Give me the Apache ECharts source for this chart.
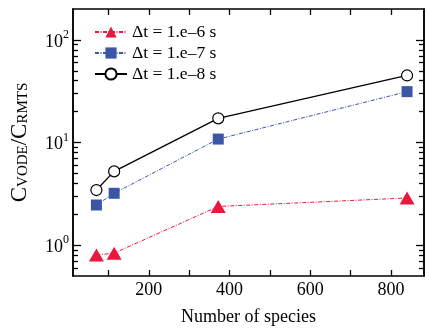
<!DOCTYPE html>
<html><head><meta charset="utf-8">
<script src="https://cdn.jsdelivr.net/npm/echarts@6/dist/echarts.min.js"></script>
<style>html,body{margin:0;padding:0;background:#fff}#c{width:429px;height:331px}</style>
</head><body><div id="c"></div>
<script>
const species = [70, 114, 372, 840];
const dt6 = [0.80, 0.835, 2.38, 2.88];
const dt7 = [2.46, 3.2, 10.8, 31.3];
const dt8 = [3.44, 5.23, 17.2, 45];
const seriesNames = ['\u0394t = 1.e\u20136 s', '\u0394t = 1.e\u20137 s', '\u0394t = 1.e\u20138 s'];
const xTickLabels = [200, 400, 600, 800];
const xTicks = [100, 200, 300, 400, 500, 600, 700, 800];
const yMajor = [1, 10, 100];
const yMinor = [0.6, 0.7, 0.8, 0.9, 2, 3, 4, 5, 6, 7, 8, 9, 20, 30, 40, 50, 60, 70, 80, 90];

const FONT = '"Liberation Serif", "DejaVu Serif", serif';
const X_MIN = 12, X_MAX = 882, Y_MIN = 0.5, Y_MAX = 200;

function pairs(ys){ return species.map((x,i)=>[x, ys[i]]); }

const axisLine = {show:true, lineStyle:{color:'#000', width:1.5}};
function xAxis(pos, labels){
  return {type:'value', position:pos, min:X_MIN, max:X_MAX,
    axisLine: axisLine,
    axisTick:{show:true, inside:true, length:6, lineStyle:{color:'#000', width:1.3}, customValues:xTicks},
    axisLabel:{show:labels, customValues:xTickLabels, fontFamily:FONT, fontSize:18, color:'#000', margin:5},
    splitLine:{show:false},
    name: labels ? 'Number of species' : '', nameLocation:'middle', nameGap:32,
    nameTextStyle:{fontFamily:FONT, fontSize:18, color:'#000'}};
}
function yAxis(pos, ticks, len, labels, name){
  return {type:'log', logBase:10, position:pos, min:Y_MIN, max:Y_MAX,
    axisLine: axisLine,
    axisTick:{show:true, inside:true, length:len, lineStyle:{color:'#000', width:1.3}, customValues:ticks},
    axisLabel:{show:labels, customValues:yMajor, margin:4,
      formatter: v => '{b|10}{s|' + Math.round(Math.log10(v)) + '}',
      rich:{b:{fontFamily:FONT, fontSize:18, color:'#000', lineHeight:22, verticalAlign:'bottom'},
            s:{fontFamily:FONT, fontSize:12, color:'#000', lineHeight:12, verticalAlign:'top'}}},
    minorTick:{show:false}, splitLine:{show:false},
    name: name ? '{c|C}{s|VODE}{c|/C}{s|RMTS}' : '', nameLocation:'middle', nameGap:42,
    nameTextStyle:{rich:{c:{fontFamily:FONT, fontSize:23, color:'#000', lineHeight:26, verticalAlign:'bottom'},
                         s:{fontFamily:FONT, fontSize:15, color:'#000', lineHeight:16, verticalAlign:'bottom'}}}};
}

const option = {
  animation:false,
  backgroundColor:'#fff',
  grid:{left:70.7, right:5, top:9, bottom:51, containLabel:false},
  legend:{orient:'vertical', left:89, top:18, itemGap:3, itemWidth:32, itemHeight:14,
    textStyle:{fontFamily:FONT, fontSize:17.5, color:'#000'}, data:seriesNames},
  xAxis:[xAxis('bottom', true), xAxis('top', false)],
  yAxis:[yAxis('left', yMajor, 8, true, true), yAxis('left', yMinor, 5, false, false),
         yAxis('right', yMajor, 8, false, false), yAxis('right', yMinor, 5, false, false)],
  series:[
    {name:seriesNames[0], type:'line', data:pairs(dt6), symbol:'triangle', symbolSize:[15,13],
     itemStyle:{color:'#e8183e'}, lineStyle:{color:'#e8183e', width:1, type:[4,1.5,1,1.5]}},
    {name:seriesNames[1], type:'line', data:pairs(dt7), symbol:'rect', symbolSize:11,
     itemStyle:{color:'#3c56a6'}, lineStyle:{color:'#3c56a6', width:1, type:[4,1.5,1,1.5]}},
    {name:seriesNames[2], type:'line', data:pairs(dt8), symbol:'circle', symbolSize:11,
     itemStyle:{color:'#fff', borderColor:'#000', borderWidth:1.2}, lineStyle:{color:'#000', width:1.3}}
  ]
};
echarts.init(document.getElementById('c'), null, {renderer:'canvas'}).setOption(option);
</script></body></html>
